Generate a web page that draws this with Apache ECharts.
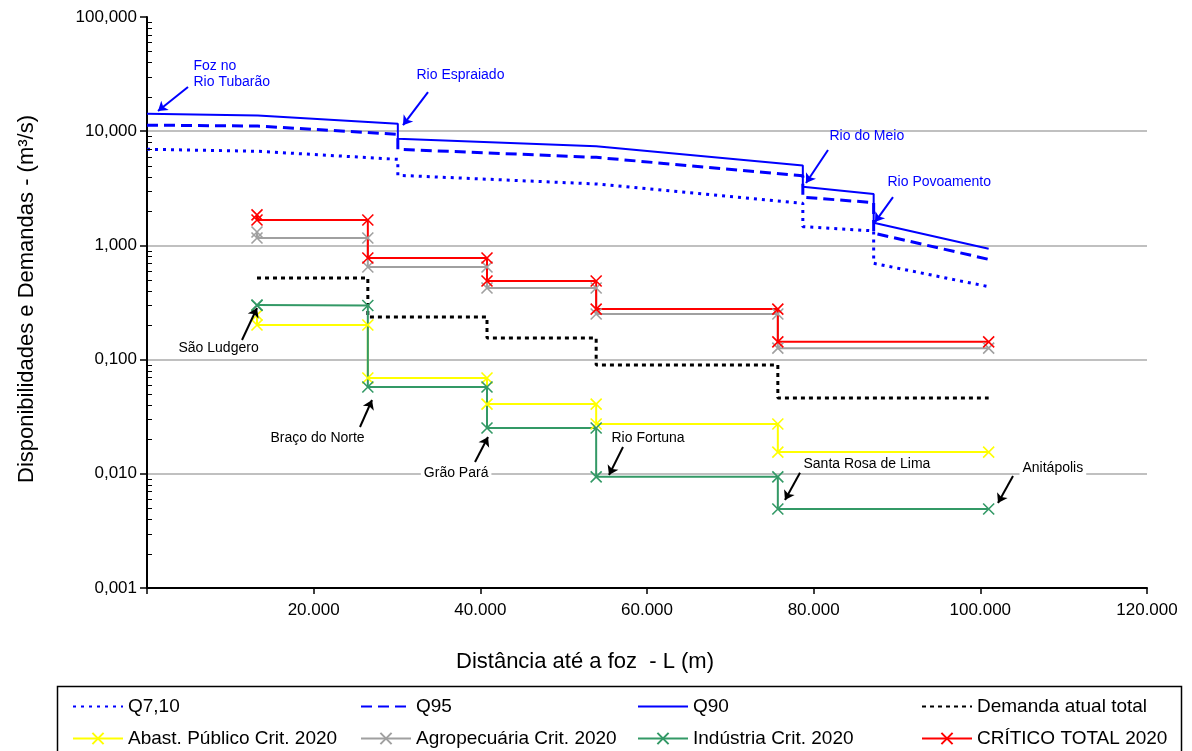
<!DOCTYPE html>
<html>
<head>
<meta charset="utf-8">
<script src="https://cdn.jsdelivr.net/npm/echarts@6/dist/echarts.min.js"></script>
<style>
  html, body { margin: 0; padding: 0; background: #fff; }
  #chart { width: 1192px; height: 751px; }
</style>
</head>
<body>
<div id="chart"></div>
<script>
// Flow availability along the river, [distance from mouth (m), flow (m³/s)]
const q710 = [[0, 6.95], [13300, 6.67], [30100, 5.67], [30100, 4.11], [53900, 3.45], [78700, 2.34], [78700, 1.46], [87200, 1.34], [87200, 0.697], [101000, 0.435]];
const q95  = [[0, 11.3], [13300, 11.1], [30100, 9.4], [30100, 6.95], [53900, 5.9], [78700, 4.07], [78700, 2.64], [87200, 2.37], [87200, 1.28], [101000, 0.755]];
const q90  = [[0, 14.2], [13300, 13.7], [30100, 11.6], [30100, 8.6], [53900, 7.4], [78700, 5.0], [78700, 3.27], [87200, 2.82], [87200, 1.58], [101000, 0.935]];

// Demand reaches (distance of each municipality from the mouth, m)
const reachX = [13200, 26500, 40800, 53900, 75700, 101000];

// Demand levels per reach (m³/s)
const demandaAtual = [0.519, 0.236, 0.1545, 0.0897, 0.0461];
const abastPublico = [0.246, 0.201, 0.069, 0.0408, 0.0273, 0.0155];
const agropecuaria = [1.31, 1.16, 0.647, 0.424, 0.251, 0.126];
const industria    = [0.301, 0.298, 0.0575, 0.0252, 0.0094, 0.00492];
const criticoTotal = [1.85, 1.67, 0.776, 0.488, 0.277, 0.143];

const seriesNames = ['Q7,10', 'Q95', 'Q90', 'Demanda atual total',
  'Abast. Público Crit. 2020', 'Agropecuária Crit. 2020', 'Indústria Crit. 2020', 'CRÍTICO TOTAL 2020'];

const xTicks = [0, 20000, 40000, 60000, 80000, 100000, 120000];
const yDecades = [0.001, 0.01, 0.1, 1, 10, 100];

// Place names along the river: label anchor, arrow tail, arrow head (data coords)
const notes = [
  { text: 'Foz no\nRio Tubarão', blue: true, at: [5520, 31.7], from: [4920, 24.4], to: [1320, 15.0] },
  { text: 'Rio Espraiado', blue: true, at: [32280, 31.0], from: [33720, 22.0], to: [30720, 11.3] },
  { text: 'Rio do Meio', blue: true, at: [81840, 9.08], from: [81720, 6.84], to: [79080, 3.52] },
  { text: 'Rio Povoamento', blue: true, at: [88800, 3.59], from: [89520, 2.65], to: [87360, 1.60] },
  { text: 'São Ludgero', at: [3720, 0.126], from: [11400, 0.1485], to: [13200, 0.283] },
  { text: 'Braço do Norte', at: [14760, 0.0206], from: [25560, 0.0257], to: [27000, 0.0443] },
  { text: 'Grão Pará', boxed: true, at: [32800, 0.0101], from: [39360, 0.01268], to: [40920, 0.0210] },
  { text: 'Rio Fortuna', at: [55680, 0.0206], from: [57120, 0.01717], to: [55440, 0.00976] },
  { text: 'Santa Rosa de Lima', at: [78720, 0.01219], from: [78360, 0.0102], to: [76560, 0.0059] },
  { text: 'Anitápolis', boxed: true, at: [104640, 0.01125], from: [103920, 0.00957], to: [102120, 0.00555] }
];

const FONT = "'Liberation Sans', Arial, Helvetica, sans-serif";
const BLUE = '#0000ff';

// Critical demand steps: two values at each reach (downstream and upstream level)
function criticalSteps(levels) {
  const out = [[reachX[0], levels[0]]];
  for (let i = 1; i < levels.length; i++) {
    out.push([reachX[i - 1], levels[i]]);
    out.push([reachX[i], levels[i]]);
  }
  return out;
}

// Current demand: each level holds from one reach to the next
function flatSteps(levels) {
  const pts = [];
  for (let i = 0; i < levels.length; i++) {
    pts.push([reachX[i], levels[i]]);
    pts.push([reachX[i + 1], levels[i]]);
  }
  return pts;
}

// Log-axis minor ticks (2..9 within each decade)
const minorTicks = [];
for (let d = 0; d < yDecades.length - 1; d++) {
  for (let m = 2; m <= 9; m++) minorTicks.push([0, yDecades[d] * m]);
}

const crossSymbol = 'path://M0,0L10,10M10,0L0,10';

function crossSeries(name, color, levels) {
  return {
    name: name, type: 'line', data: criticalSteps(levels),
    symbol: crossSymbol, symbolSize: 11, showSymbol: true,
    lineStyle: { color: color, width: 2 },
    itemStyle: { color: color, borderColor: color, borderWidth: 1.6 },
    z: 3
  };
}

function fmtThousands(v) {
  return String(Math.round(v)).replace(/\B(?=(\d{3})+(?!\d))/g, '.');
}

const chart = echarts.init(document.getElementById('chart'), null, { renderer: 'canvas' });

// one legend block per entry so the four columns line up in two rows
const legendLeft = [72, 360, 637, 921];
const plainLine = [true, true, true, true, false, false, false, false];
const legends = seriesNames.map((n, i) => ({
  data: [plainLine[i]
    ? { name: n, itemStyle: { opacity: 0, color: 'rgba(0,0,0,0)', borderColor: 'rgba(0,0,0,0)', borderWidth: 0 } }
    : { name: n }],
  left: legendLeft[i % 4],
  top: i < 4 ? 697 : 729,
  itemWidth: 50, itemHeight: 14, itemGap: 0, padding: 0,
  selectedMode: false,
  textStyle: { fontSize: 19, color: '#000', fontFamily: FONT }
}));

chart.setOption({
  animation: false,
  backgroundColor: '#fff',
  grid: { left: 147, right: 45, top: 17, bottom: 163, containLabel: false },
  legend: legends,
  xAxis: {
    type: 'value', min: 0, max: 120000, interval: 20000,
    axisLine: { show: true, onZero: false, lineStyle: { color: '#000', width: 2 } },
    axisTick: { show: true, length: 6, lineStyle: { color: '#000', width: 1.5 } },
    splitLine: { show: false },
    axisLabel: {
      margin: 14, fontSize: 17, color: '#000', fontFamily: FONT,
      formatter: v => (xTicks.indexOf(v) > 0 ? fmtThousands(v) : '')
    }
  },
  yAxis: {
    type: 'log', logBase: 10, min: 0.001, max: 100,
    axisLine: { show: true, lineStyle: { color: '#000', width: 2 } },
    axisTick: { show: true, length: 7, lineStyle: { color: '#000', width: 1.5 } },
    splitLine: { show: true, showMinLine: false, showMaxLine: false, lineStyle: { color: '#c0c0c0', width: 2 } },
    axisLabel: {
      margin: 10, fontSize: 17, color: '#000', fontFamily: FONT,
      formatter: v => Number(v).toFixed(3).replace('.', ',')
    }
  },
  graphic: [
    {
      // y-axis title, reading bottom to top
      type: 'text', x: 27, y: 483, rotation: Math.PI / 2,
      style: {
        text: 'Disponibilidades e Demandas - (m³/s)', fontSize: 22, fontFamily: FONT,
        fill: '#000', textAlign: 'left', textVerticalAlign: 'middle'
      }
    },
    {
      // x-axis title
      type: 'text', x: 585, y: 662,
      style: {
        text: 'Distância até a foz  - L (m)', fontSize: 22, fontFamily: FONT,
        fill: '#000', textAlign: 'center', textVerticalAlign: 'middle'
      }
    },
    {
      type: 'rect', shape: { x: 57.5, y: 686.5, width: 1124, height: 90 },
      style: { fill: 'none', stroke: '#000', lineWidth: 1.5 }, z: 100
    }
  ],
  series: [
    {
      name: 'Q7,10', type: 'line', data: q710, symbol: 'none',
      lineStyle: { color: BLUE, width: 3, type: [3, 5] }, itemStyle: { color: BLUE }, z: 2
    },
    {
      name: 'Q95', type: 'line', data: q95, symbol: 'none',
      lineStyle: { color: BLUE, width: 3, type: [11, 6] }, itemStyle: { color: BLUE }, z: 2
    },
    {
      name: 'Q90', type: 'line', data: q90, symbol: 'none',
      lineStyle: { color: BLUE, width: 2 }, itemStyle: { color: BLUE }, z: 2
    },
    {
      name: 'Demanda atual total', type: 'line', data: flatSteps(demandaAtual), symbol: 'none',
      lineStyle: { color: '#000', width: 3, type: [4, 4] }, itemStyle: { color: '#000' }, z: 2
    },
    crossSeries('Abast. Público Crit. 2020', '#ffff00', abastPublico),
    crossSeries('Agropecuária Crit. 2020', '#a0a0a0', agropecuaria),
    crossSeries('Indústria Crit. 2020', '#339966', industria),
    crossSeries('CRÍTICO TOTAL 2020', '#ff0000', criticoTotal),
    {
      // minor ticks of the log axis, drawn just inside the axis line
      type: 'custom', silent: true, z: 6, data: minorTicks,
      renderItem: (params, api) => {
        const p = api.coord([0, api.value(1)]);
        return {
          type: 'line',
          shape: { x1: p[0], y1: Math.round(p[1]) + 0.5, x2: p[0] + 5, y2: Math.round(p[1]) + 0.5 },
          style: { stroke: '#000', lineWidth: 1 }
        };
      }
    },
    {
      // place-name labels with pointer arrows
      type: 'line', name: 'notes', data: [], silent: true, z: 8,
      markLine: {
        silent: true, animation: false, symbol: ['none', 'arrow'], symbolSize: 9,
        label: { show: false },
        data: notes.map(n => [
          { coord: n.from, lineStyle: { color: n.blue ? BLUE : '#000', width: 2, type: 'solid' } },
          { coord: n.to }
        ])
      },
      markPoint: {
        silent: true, animation: false, symbol: 'circle', symbolSize: 1,
        itemStyle: { color: 'rgba(0,0,0,0)' },
        data: notes.map(n => ({
          coord: n.at,
          label: {
            show: true, position: 'right', distance: 0,
            formatter: n.text, align: 'left', verticalAlign: 'middle',
            fontSize: 14, lineHeight: 16, fontFamily: FONT,
            color: n.blue ? BLUE : '#000',
            backgroundColor: n.boxed ? '#fff' : 'transparent',
            padding: n.boxed ? [1, 3] : 0
          }
        }))
      }
    }
  ]
});
</script>
</body>
</html>
